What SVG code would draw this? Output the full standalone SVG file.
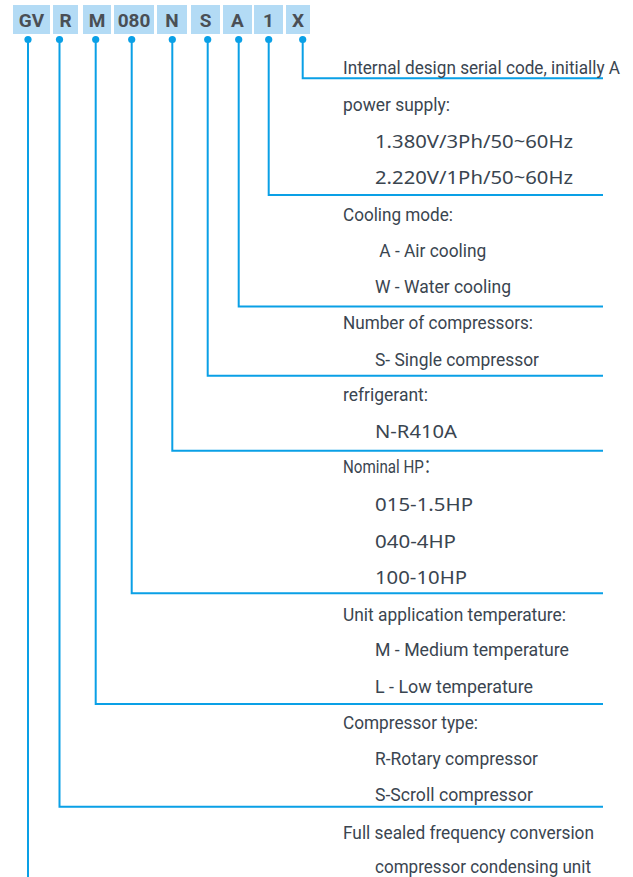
<svg xmlns="http://www.w3.org/2000/svg" width="633" height="877" viewBox="0 0 633 877">
<style>
.box{fill:#b3dbf5}
.code{font-family:Roboto,"Liberation Sans",sans-serif;font-weight:bold;font-size:19px;fill:#4a4f55;text-anchor:middle}
.ln{fill:none;stroke:#0aa0e6;stroke-width:2}
.dot{fill:#0aa0e6}
.t{font-family:Roboto,"Liberation Sans","Noto Sans CJK SC",sans-serif;font-size:19px;fill:#3a4550}
.n{font-family:"Noto Sans","DejaVu Sans",sans-serif;font-size:18px;fill:#3a4550}
</style>
<g id="codes">
<g id="code-GV"><rect class="box" x="13" y="5" width="37" height="29"/><text class="code" x="31.5" y="27">GV</text></g>
<g id="code-R"><rect class="box" x="53" y="5" width="25" height="29"/><text class="code" x="65.5" y="27">R</text></g>
<g id="code-M"><rect class="box" x="83" y="5" width="28" height="29"/><text class="code" x="97" y="27">M</text></g>
<g id="code-080"><rect class="box" x="114" y="5" width="40" height="29"/><text class="code" x="134" y="27">080</text></g>
<g id="code-N"><rect class="box" x="157" y="5" width="30" height="29"/><text class="code" x="172" y="27">N</text></g>
<g id="code-S"><rect class="box" x="191" y="5" width="29" height="29"/><text class="code" x="205.5" y="27">S</text></g>
<g id="code-A"><rect class="box" x="223" y="5" width="29" height="29"/><text class="code" x="237.5" y="27">A</text></g>
<g id="code-1"><rect class="box" x="254" y="5" width="29" height="29"/><text class="code" x="268.5" y="27">1</text></g>
<g id="code-X"><rect class="box" x="286" y="5" width="24" height="29"/><text class="code" x="298" y="27">X</text></g>
</g>
<g id="connectors">
<circle class="dot" cx="28" cy="39.5" r="3.6"/>
<circle class="dot" cx="59.5" cy="39.5" r="3.6"/>
<circle class="dot" cx="95.7" cy="39.5" r="3.6"/>
<circle class="dot" cx="131.7" cy="39.5" r="3.6"/>
<circle class="dot" cx="172.3" cy="39.5" r="3.6"/>
<circle class="dot" cx="207.7" cy="39.5" r="3.6"/>
<circle class="dot" cx="238.7" cy="39.5" r="3.6"/>
<circle class="dot" cx="268.7" cy="39.5" r="3.6"/>
<circle class="dot" cx="302.7" cy="39.5" r="3.6"/>
<path class="ln" d="M28 40V877"/>
<path class="ln" d="M59.5 40V806.7H603"/>
<path class="ln" d="M95.7 40V704H603"/>
<path class="ln" d="M131.7 40V593.3H603"/>
<path class="ln" d="M172.3 40V450.7H603"/>
<path class="ln" d="M207.7 40V375.7H603"/>
<path class="ln" d="M238.7 40V306.5H603"/>
<path class="ln" d="M268.7 40V195H603"/>
<path class="ln" d="M302.7 40V78.3H603"/>
</g>
<g id="labels">
<g id="desc-X"><text class="t" x="343" y="74" textLength="277" lengthAdjust="spacingAndGlyphs">Internal design serial code, initially A</text></g>
<g id="desc-1">
<text class="t" x="343" y="111" textLength="107" lengthAdjust="spacingAndGlyphs">power supply:</text>
<text class="n" x="375" y="148" textLength="198" lengthAdjust="spacingAndGlyphs">1.380V/3Ph/50~60Hz</text>
<text class="n" x="375" y="184" textLength="198" lengthAdjust="spacingAndGlyphs">2.220V/1Ph/50~60Hz</text>
</g>
<g id="desc-A">
<text class="t" x="343" y="220.7" textLength="110" lengthAdjust="spacingAndGlyphs">Cooling mode:</text>
<text class="t" x="379.3" y="256.7" textLength="107" lengthAdjust="spacingAndGlyphs">A - Air cooling</text>
<text class="t" x="375" y="292.7" textLength="136" lengthAdjust="spacingAndGlyphs">W - Water cooling</text>
</g>
<g id="desc-S">
<text class="t" x="343" y="329.3" textLength="190" lengthAdjust="spacingAndGlyphs">Number of compressors:</text>
<text class="t" x="375" y="365.7" textLength="164" lengthAdjust="spacingAndGlyphs">S- Single compressor</text>
</g>
<g id="desc-N">
<text class="t" x="343" y="400.7" textLength="85" lengthAdjust="spacingAndGlyphs">refrigerant:</text>
<text class="n" x="375" y="438" textLength="82" lengthAdjust="spacingAndGlyphs">N-R410A</text>
</g>
<g id="desc-080">
<text class="t" x="343" y="473.3" textLength="96" lengthAdjust="spacingAndGlyphs">Nominal HP：</text>
<text class="n" x="375" y="511" textLength="98" lengthAdjust="spacingAndGlyphs">015-1.5HP</text>
<text class="n" x="375" y="548" textLength="81" lengthAdjust="spacingAndGlyphs">040-4HP</text>
<text class="n" x="375" y="584" textLength="92" lengthAdjust="spacingAndGlyphs">100-10HP</text>
</g>
<g id="desc-M">
<text class="t" x="343" y="620.7" textLength="223" lengthAdjust="spacingAndGlyphs">Unit application temperature:</text>
<text class="t" x="375" y="656" textLength="194" lengthAdjust="spacingAndGlyphs">M - Medium temperature</text>
<text class="t" x="375" y="692.7" textLength="158" lengthAdjust="spacingAndGlyphs">L - Low temperature</text>
</g>
<g id="desc-R">
<text class="t" x="343" y="729.3" textLength="135" lengthAdjust="spacingAndGlyphs">Compressor type:</text>
<text class="t" x="375" y="765" textLength="163" lengthAdjust="spacingAndGlyphs">R-Rotary compressor</text>
<text class="t" x="375" y="801" textLength="158" lengthAdjust="spacingAndGlyphs">S-Scroll compressor</text>
</g>
<g id="desc-GV">
<text class="t" x="343" y="839" textLength="251" lengthAdjust="spacingAndGlyphs">Full sealed frequency conversion</text>
<text class="t" x="375" y="873" textLength="216" lengthAdjust="spacingAndGlyphs">compressor condensing unit</text>
</g>
</g>
</svg>
